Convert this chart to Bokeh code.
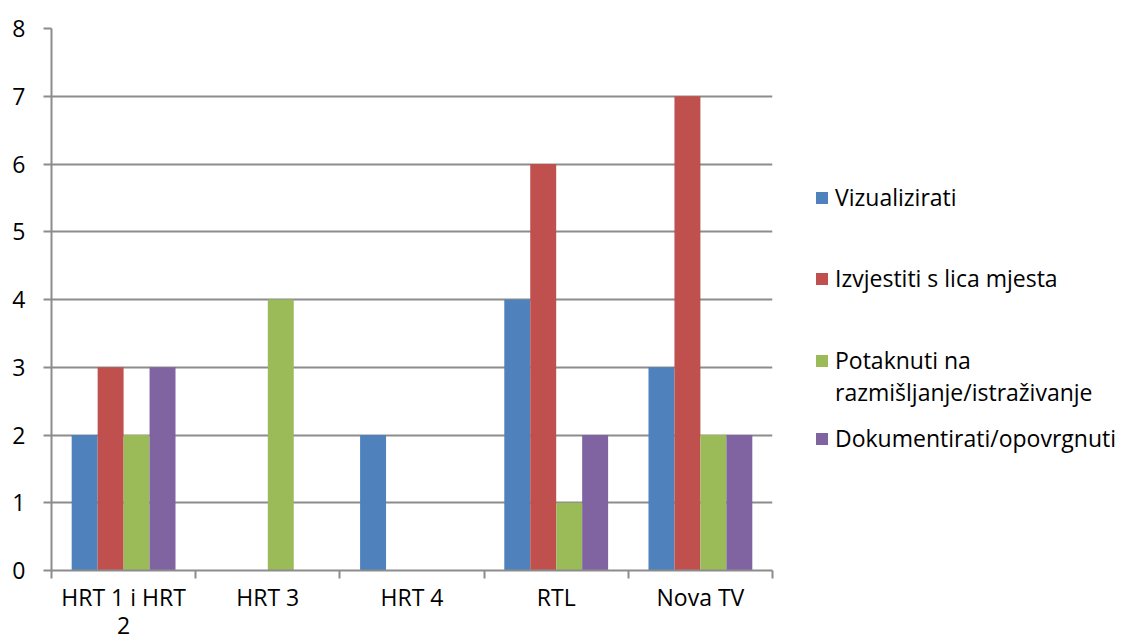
from bokeh.plotting import figure
from bokeh.models import FixedTicker, Legend, LegendItem, ColumnDataSource
from bokeh.layouts import row
from bokeh.embed import file_html
from bokeh.resources import INLINE

categories = ["HRT 1 i HRT\n2", "HRT 3", "HRT 4", "RTL", "Nova TV"]
series_names = ["Vizualizirati", "Izvjestiti s lica mjesta",
                "Potaknuti na\nrazmišljanje/istraživanje", "Dokumentirati/opovrgnuti"]
vizualizirati = [2, 0, 2, 4, 3]
izvjestiti = [3, 0, 0, 6, 7]
potaknuti = [2, 4, 0, 1, 2]
dokumentirati = [3, 0, 0, 2, 2]
y_ticks = [0, 1, 2, 3, 4, 5, 6, 7, 8]

colors = ["#4F81BD", "#C0504D", "#9BBB59", "#8064A2"]
FONT = "Open Sans"
GRID = "#8C8C8C"

p = figure(width=774, height=644, output_backend="svg", toolbar_location=None,
           x_range=(0, len(categories)), y_range=(0, 8),
           min_border_left=51, min_border_right=2, min_border_top=28, min_border_bottom=73)
p.outline_line_color = None
p.background_fill_color = "white"
p.border_fill_color = "white"

centers = [i + 0.5 for i in range(len(categories))]
bar_w = 0.18
offsets = [-0.27, -0.09, 0.09, 0.27]
all_series = [vizualizirati, izvjestiti, potaknuti, dokumentirati]
sources = []
for vals, off, col in zip(all_series, offsets, colors):
    src = ColumnDataSource(dict(x=[c + off for c in centers], top=vals))
    sources.append(src)
    p.vbar(x="x", top="top", width=bar_w, source=src, fill_color=col, line_color=None)

# x axis
p.xaxis.ticker = FixedTicker(ticks=centers, minor_ticks=list(range(len(categories) + 1)))
p.xaxis.major_label_overrides = {c: lab for c, lab in zip(centers, categories)}
p.xaxis.major_tick_out = 0
p.xaxis.major_tick_in = 0
p.xaxis.minor_tick_out = 8
p.xaxis.minor_tick_in = 0
p.xaxis.minor_tick_line_color = GRID
p.xaxis.minor_tick_line_width = 2
p.xaxis.axis_line_color = GRID
p.xaxis.axis_line_width = 2
p.xaxis.major_label_standoff = 2
p.xaxis.major_label_text_font = FONT
p.xaxis.major_label_text_font_size = "23px"
p.xaxis.major_label_text_color = "black"
p.xaxis.major_label_text_line_height = 0.9
p.xgrid.grid_line_color = None

# y axis
p.yaxis.ticker = FixedTicker(ticks=y_ticks)
p.yaxis.major_tick_out = 8
p.yaxis.major_tick_in = 0
p.yaxis.major_tick_line_color = GRID
p.yaxis.major_tick_line_width = 2
p.yaxis.minor_tick_line_color = None
p.yaxis.axis_line_color = GRID
p.yaxis.axis_line_width = 2
p.yaxis.major_label_standoff = 18
p.yaxis.major_label_text_font = FONT
p.yaxis.major_label_text_font_size = "23px"
p.yaxis.major_label_text_color = "black"
p.ygrid.ticker = FixedTicker(ticks=y_ticks)
p.ygrid.grid_line_color = GRID
p.ygrid.grid_line_width = 2

# legend panel: a second, axis-free figure to the right of the chart.
# Its key renderers reuse the series data as zero-width (invisible) bars.
lf = figure(width=350, height=644, output_backend="svg", toolbar_location=None,
            x_range=(0, len(categories)), y_range=(0, 8),
            min_border_left=0, min_border_right=0, min_border_top=28, min_border_bottom=73)
lf.axis.visible = False
lf.grid.visible = False
lf.outline_line_color = None
lf.border_fill_color = "white"
lf.background_fill_color = "white"

keys = []
for src, col in zip(sources, colors):
    keys.append(lf.vbar(x="x", top="top", width=0, source=src, fill_color=col, line_color=None))

# (x, y) of each legend block's bottom-left corner, in px from the frame's bottom-left
legend_pos = [(40, 357), (40, 276), (40, 162), (40, 116)]
for name, r, pos in zip(series_names, keys, legend_pos):
    lines = name.split("\n")
    # Excel puts the key square beside the first line of a wrapped entry
    items = [LegendItem(label=lines[0], renderers=[r])]
    items += [LegendItem(label=ln, renderers=[]) for ln in lines[1:]]
    lg = Legend(items=items, location=pos,
                orientation="vertical", padding=0, margin=0, spacing=0,
                glyph_width=15, glyph_height=15, label_standoff=6,
                label_text_font=FONT, label_text_font_size="23px",
                label_text_color="black", label_text_line_height=1.05,
                border_line_color=None, background_fill_alpha=0)
    lf.add_layout(lg, "center")

layout = row(p, lf, spacing=0)
open("out.html", "w").write(file_html(layout, INLINE))
